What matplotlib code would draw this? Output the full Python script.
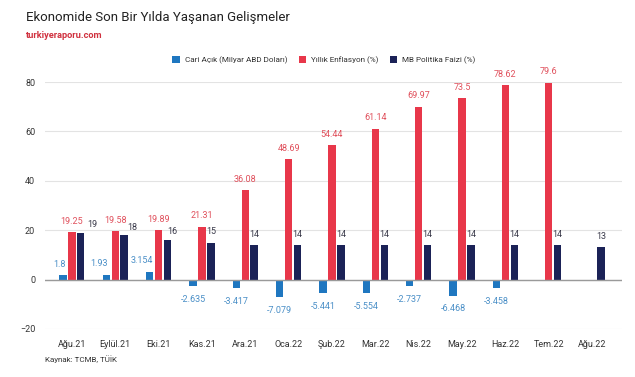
import matplotlib.pyplot as plt
import numpy as np

plt.rcParams['font.family'] = ['Roboto', 'DejaVu Sans']

months = ["Ağu.21", "Eylül.21", "Eki.21", "Kas.21", "Ara.21", "Oca.22", "Şub.22",
          "Mar.22", "Nis.22", "May.22", "Haz.22", "Tem.22", "Ağu.22"]
cari_acik = [1.8, 1.93, 3.154, -2.635, -3.417, -7.079, -5.441, -5.554, -2.737,
             -6.468, -3.458, np.nan, np.nan]
enflasyon = [19.25, 19.58, 19.89, 21.31, 36.08, 48.69, 54.44, 61.14, 69.97,
             73.5, 78.62, 79.6, np.nan]
faiz = [19, 18, 16, 15, 14, 14, 14, 14, 14, 14, 14, 14, 13]

c_blue, c_red, c_navy = "#1f77c0", "#e8374a", "#1b2257"
l_blue, l_red, l_navy = "#4a8fc7", "#e0505c", "#3a3a4a"

fig = plt.figure(figsize=(6.35, 3.77), dpi=100)
ax = fig.add_axes([45/635, 1-329/377, (622-45)/635, (329-82)/377])

x = np.arange(len(months))
w = 0.17
step = 0.205

def fmt(v):
    return ("%.3f" % v).rstrip('0').rstrip('.')

# label nudges (pixels) where labels would collide, as in the original
def nudge(col, i, v):
    if col == c_navy:
        gap = abs(enflasyon[i] - v) if not np.isnan(enflasyon[i]) else 99
        if gap < 1:
            return 12, 8
        if gap < 3:
            return 8, 8
        if gap < 5:
            return 5, 9
        return 0, 11
    if col == c_blue and v > 0:
        return -4 - (3 if i > 0 else 0) - (1 if v > 3 else 0), 11
    return 0, 11 if v >= 0 else -13

series = [(cari_acik, -step, c_blue, l_blue, "Cari Açık (Milyar ABD Doları)"),
          (enflasyon, 0, c_red, l_red, "Yıllık Enflasyon (%)"),
          (faiz, step, c_navy, l_navy, "MB Politika Faizi (%)")]

for vals, off, col, lcol, name in series:
    ax.bar(x + off, vals, width=w, color=col, label=name, zorder=3)
    for i, v in enumerate(vals):
        if np.isnan(v):
            continue
        dx, dy = nudge(col, i, v)
        ax.annotate(fmt(v), (x[i] + off, v), xytext=(dx, dy), textcoords="offset pixels",
                    ha="center", va="center", fontsize=6.5, color=lcol, zorder=4)

ax.set_ylim(-20, 80)
ax.set_xlim(-0.62, 12.69)
ax.set_yticks([-20, 0, 20, 40, 60, 80])
ax.set_xticks(x)
ax.set_xticklabels(months)
ax.tick_params(length=0, labelsize=6.5, colors="#333333")
ax.tick_params(axis="y", pad=7)
ax.tick_params(axis="x", pad=8)
ax.grid(axis="y", color="#e3e3e3", linewidth=0.8, zorder=0)
ax.axhline(0, color="#9a9a9a", linewidth=1, zorder=3)
for s in ax.spines.values():
    s.set_visible(False)

fig.text(26/635, 1-18/377, "Ekonomide Son Bir Yılda Yaşanan Gelişmeler",
         fontsize=9.5, color="#222222", va="center")
fig.text(26/635, 1-36/377, "turkiyeraporu.com", fontsize=6.7, fontweight="bold",
         color="#d0313f", va="center")
fig.text(45/635, 1-359/377, "Kaynak: TCMB, TÜİK", fontsize=5.8, color="#333333",
         va="center")

fig.legend(loc="center", bbox_to_anchor=(324/635, 1-60/377), ncol=3, frameon=False,
           fontsize=5.9, handlelength=0.9, handleheight=0.9, handletextpad=0.6,
           columnspacing=1.4, labelcolor="#333333")

fig.savefig("out.png", dpi=100)
